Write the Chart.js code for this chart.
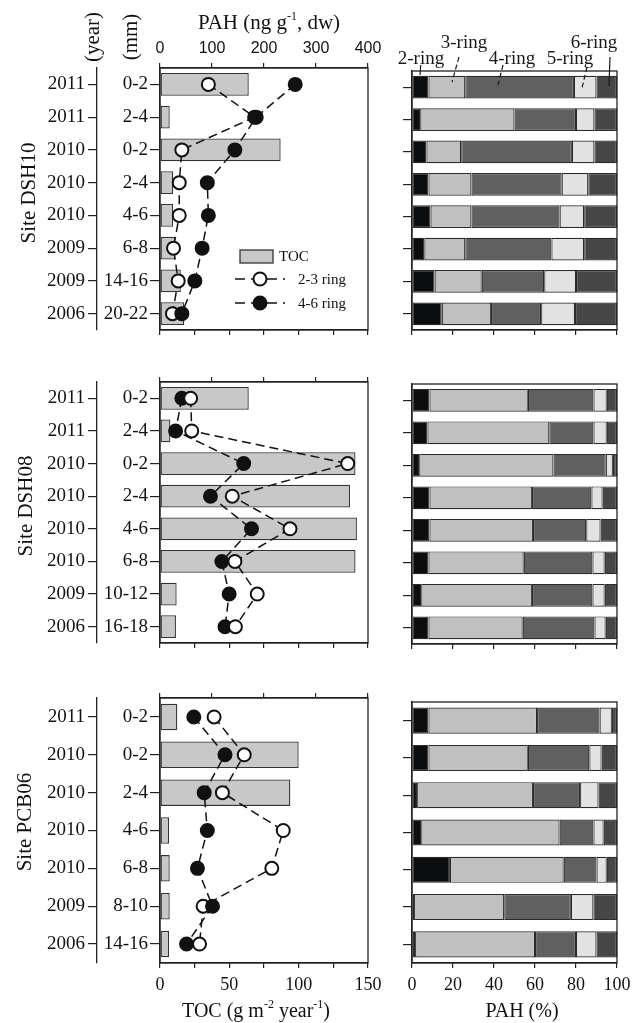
<!DOCTYPE html>
<html>
<head>
<meta charset="utf-8">
<script src="https://cdn.jsdelivr.net/npm/chart.js@4.4.0/dist/chart.umd.min.js"></script>
<style>
body { margin: 0; background: #fff; width: 638px; height: 1023px; position: relative; overflow: hidden;
       font-family: "Liberation Serif", "Times New Roman", serif; color: #111; }
canvas { position: absolute; }
.t { position: absolute; white-space: nowrap; line-height: 1; font-size: 21px; transform: translate(-50%, -50%); }
.r { transform: translate(-50%, -50%) rotate(-90deg); }
.t sup { font-size: 12px; position: relative; top: -2px; vertical-align: top; }
.ring { font-size: 19px; color: #1a1a1a; }
</style>
</head>
<body>
<canvas id="l1" width="400" height="345" style="left:0;top:0"></canvas>
<canvas id="r1" width="258" height="345" style="left:380px;top:0"></canvas>
<canvas id="l2" width="400" height="320" style="left:0;top:345px"></canvas>
<canvas id="r2" width="258" height="320" style="left:380px;top:345px"></canvas>
<canvas id="l3" width="400" height="358" style="left:0;top:665px"></canvas>
<canvas id="r3" width="258" height="358" style="left:380px;top:665px"></canvas>

<div class="t r" style="left:92px;top:37px">(year)</div>
<div class="t r" style="left:130px;top:37px">(mm)</div>
<div class="t" style="left:269px;top:22px">PAH (ng g<sup>-1</sup>, dw)</div>
<div class="t r" style="left:28px;top:193px">Site DSH10</div>
<div class="t r" style="left:25px;top:506px">Site DSH08</div>
<div class="t r" style="left:24px;top:822px">Site PCB06</div>
<div class="t" style="left:256px;top:1010px;font-size:20px">TOC (g m<sup>-2</sup> year<sup>-1</sup>)</div>
<div class="t" style="left:522px;top:1010px;font-size:20px">PAH (%)</div>
<div class="t ring" style="left:421px;top:57px">2-ring</div>
<div class="t ring" style="left:464px;top:41px">3-ring</div>
<div class="t ring" style="left:512px;top:57px">4-ring</div>
<div class="t ring" style="left:570px;top:57px">5-ring</div>
<div class="t ring" style="left:594px;top:41px">6-ring</div>

<script>
// site DSH10
var years10 = ['2011', '2011', '2010', '2010', '2010', '2009', '2009', '2006'];
var depth10 = ['0-2', '2-4', '0-2', '2-4', '4-6', '6-8', '14-16', '20-22'];
var toc10 = [64, 7, 87, 9.5, 9.5, 11, 15, 17.5];
var low10 = [93, 182, 42, 37, 37, 26, 35, 24];
var high10 = [260, 185, 144, 91, 93, 81, 67, 42];
var ring2_10 = [8, 4, 7, 8, 9, 6, 11, 14.5];
var ring3_10 = [18, 46, 17, 21, 20, 20, 23, 24];
var ring4_10 = [53, 30, 54, 44, 43, 42, 30.5, 24.5];
var ring5_10 = [11, 9, 11, 13, 12, 16, 15.5, 16.5];
var ring6_10 = [10, 11, 11, 14, 16, 16, 20, 20.5];

// site DSH08
var years08 = ['2011', '2011', '2010', '2010', '2010', '2010', '2009', '2006'];
var depth08 = ['0-2', '2-4', '0-2', '2-4', '4-6', '6-8', '10-12', '16-18'];
var toc08 = [64, 7.5, 141, 137, 142, 141, 12, 11.5];
var low08 = [59, 61, 361, 139, 250, 144, 187, 145];
var high08 = [42, 30, 161, 97, 176, 119, 133, 125];
var ring2_08 = [8.5, 7.5, 3.5, 8.5, 8.5, 8, 4.5, 8];
var ring3_08 = [48, 59.5, 65.5, 50, 50.5, 46.5, 54, 46];
var ring4_08 = [32, 21.5, 25.5, 29, 26, 33.5, 29.5, 35];
var ring5_08 = [6.5, 6.5, 3.5, 5.5, 7, 6, 6, 5.5];
var ring6_08 = [5, 5, 2, 7, 8, 6, 6, 5.5];

// site PCB06
var years06 = ['2011', '2010', '2010', '2010', '2010', '2009', '2006'];
var depth06 = ['0-2', '0-2', '2-4', '4-6', '6-8', '8-10', '14-16'];
var toc06 = [12.5, 100, 94, 6.5, 7, 7, 6.5];
var low06 = [104, 162, 120, 237, 215, 83, 76];
var high06 = [65, 125, 85, 91, 72, 101, 51];
var ring2_06 = [8, 8, 2.5, 4.5, 18.5, 1, 1.5];
var ring3_06 = [53, 48.5, 56.5, 67.5, 55.5, 44, 58.5];
var ring4_06 = [30.5, 30, 23, 16.5, 16, 32.5, 20];
var ring5_06 = [6, 6, 9, 5, 5, 11, 10];
var ring6_06 = [2.5, 7.5, 9, 6.5, 5, 11.5, 10];

var ringNames = ['2-ring', '3-ring', '4-ring', '5-ring', '6-ring'];
var ringColors = ['#0b0d0e', '#c0c0c0', '#606060', '#e2e2e2', '#464646'];

Chart.defaults.font.family = '"Liberation Serif", "Times New Roman", serif';
Chart.defaults.color = '#111';

var ink = '#222';

// box round the plot area
var frame = {
    id: 'frame',
    afterDatasetsDraw: function (chart) {
        var a = chart.chartArea, c = chart.ctx;
        c.save();
        c.strokeStyle = ink;
        c.lineWidth = 1.3;
        c.strokeRect(a.left, a.top, a.right - a.left, a.bottom - a.top);
        c.restore();
    }
};

// fixed axis size so the panels line up
function fix(size) {
    return function (s) {
        if (s.isHorizontal()) s.height = size; else s.width = size;
        s.paddingLeft = 0; s.paddingRight = 0; s.paddingTop = 0; s.paddingBottom = 0;
    };
}

function leftChart(id, years, depths, toc, low, high, lowOnTop, o) {
    var lineBase = {
        type: 'line', indexAxis: 'y', xAxisID: 'x2', yAxisID: 'y',
        borderColor: '#111', borderWidth: 1.5, borderDash: [9, 5],
        pointRadius: 6.5, pointBorderWidth: 2, pointBorderColor: '#111',
        fill: false, tension: 0
    };
    return new Chart(document.getElementById(id), {
        type: 'bar',
        data: {
            labels: depths,
            datasets: [
                Object.assign({}, lineBase, { label: '2-3 ring', data: low, order: lowOnTop ? 1 : 2, pointBackgroundColor: '#fff' }),
                Object.assign({}, lineBase, { label: '4-6 ring', data: high, order: lowOnTop ? 2 : 1, pointBackgroundColor: '#111' }),
                {
                    type: 'bar', label: 'TOC', data: toc, indexAxis: 'y', xAxisID: 'x', yAxisID: 'y', order: 3,
                    backgroundColor: '#c8c8c8', borderColor: '#333', borderWidth: 1.3, borderSkipped: false,
                    barPercentage: 0.7, categoryPercentage: 1
                }
            ]
        },
        options: {
            indexAxis: 'y',
            responsive: false,
            animation: false,
            devicePixelRatio: 1,
            layout: { padding: { left: 0, right: 32, top: o.padTop, bottom: 0 } },
            plugins: { legend: { display: false }, tooltip: { enabled: false } },
            scales: {
                x: {
                    type: 'linear', position: 'bottom', min: 0, max: 150, afterFit: fix(o.xh),
                    grid: { drawOnChartArea: false, tickLength: 5, color: ink, lineWidth: 1.2 },
                    border: { color: ink, width: 1.3 },
                    ticks: {
                        display: o.bottomLabels, stepSize: 25, autoSkip: false, padding: 6, maxRotation: 0,
                        font: { size: 18 }, callback: function (v) { return v % 50 === 0 ? v : ''; }
                    }
                },
                x2: {
                    type: 'linear', position: 'top', min: 0, max: 400, afterFit: fix(o.x2h),
                    grid: { drawOnChartArea: false, tickLength: 5, color: ink, lineWidth: 1.2 },
                    border: { color: ink, width: 1.3 },
                    ticks: {
                        display: o.topLabels, stepSize: 100, autoSkip: false, padding: 5, maxRotation: 0,
                        font: { family: '"Liberation Sans", Arial, sans-serif', size: 16 }
                    }
                },
                y: {
                    type: 'category', position: 'left', offset: true, afterFit: fix(63),
                    grid: { offset: false, drawOnChartArea: false, tickLength: 10, color: ink, lineWidth: 1.2 },
                    border: { color: ink, width: 1.3 },
                    ticks: { padding: 2, font: { size: 19 } }
                },
                yYear: {
                    type: 'category', axis: 'y', position: 'left', weight: 1, labels: years, offset: true,
                    afterFit: fix(97),
                    grid: { offset: false, drawOnChartArea: false, tickLength: 9, color: ink, lineWidth: 1.2 },
                    border: { color: ink, width: 1.3 },
                    ticks: { padding: 3, font: { size: 19 } }
                }
            }
        },
        plugins: [frame].concat(o.extra || [])
    });
}

function rightChart(id, depths, rings, o) {
    return new Chart(document.getElementById(id), {
        type: 'bar',
        data: {
            labels: depths,
            datasets: rings.map(function (d, i) {
                return {
                    label: ringNames[i], data: d, backgroundColor: ringColors[i],
                    borderColor: '#2a2a2a', borderWidth: 1.2, borderSkipped: false,
                    barPercentage: 0.7, categoryPercentage: 1
                };
            })
        },
        options: {
            indexAxis: 'y',
            responsive: false,
            animation: false,
            devicePixelRatio: 1,
            layout: { padding: { left: 23, right: 21, top: o.padTop, bottom: 0 } },
            plugins: { legend: { display: false }, tooltip: { enabled: false } },
            scales: {
                x: {
                    stacked: true, min: 0, max: 100, afterFit: fix(o.xh),
                    grid: { drawOnChartArea: false, tickLength: 5, color: ink, lineWidth: 1.2 },
                    border: { color: ink, width: 1.3 },
                    ticks: { display: o.labels, stepSize: 20, autoSkip: false, padding: 6, maxRotation: 0, font: { size: 18 } }
                },
                y: {
                    stacked: true, offset: true, afterFit: fix(9),
                    grid: { offset: false, drawOnChartArea: false, tickLength: 9, color: ink, lineWidth: 1.2 },
                    border: { color: ink, width: 1.3 },
                    ticks: { display: false }
                }
            }
        },
        plugins: [frame].concat(o.extra || [])
    });
}

// legend inside the first left panel
var legendBox = {
    id: 'legendBox',
    afterDraw: function (chart) {
        var c = chart.ctx;
        c.save();
        c.fillStyle = '#c8c8c8';
        c.strokeStyle = '#333';
        c.lineWidth = 1.3;
        c.fillRect(240, 250, 33, 13);
        c.strokeRect(240, 250, 33, 13);
        c.fillStyle = '#111';
        c.font = '15px "Liberation Serif", serif';
        c.textBaseline = 'middle';
        c.fillText('TOC', 279, 257);
        [[279, '#fff', '2-3 ring'], [303, '#111', '4-6 ring']].forEach(function (r) {
            c.strokeStyle = '#111';
            c.lineWidth = 1.5;
            c.setLineDash([10, 6]);
            c.beginPath(); c.moveTo(235, r[0]); c.lineTo(285, r[0]); c.stroke();
            c.setLineDash([]);
            c.lineWidth = 2;
            c.fillStyle = r[1];
            c.beginPath(); c.arc(260, r[0], 6.5, 0, Math.PI * 2); c.fill(); c.stroke();
            c.fillStyle = '#111';
            c.fillText(r[2], 298, r[0] + 1);
        });
        c.restore();
    }
};

// leader lines from the ring names to the first bar
var leaders = {
    id: 'leaders',
    afterDraw: function (chart) {
        var c = chart.ctx;
        var segs = [[40.7, 65, 40, 75, false], [79, 57, 72, 82, true], [123, 65, 118, 85, true],
                    [207, 67, 202, 88, true], [230, 57, 229, 86, false]];
        c.save();
        c.strokeStyle = '#1a1a1a';
        c.lineWidth = 1.2;
        segs.forEach(function (s) {
            c.setLineDash(s[4] ? [5, 3] : []);
            c.beginPath(); c.moveTo(s[0], s[1]); c.lineTo(s[2], s[3]); c.stroke();
        });
        c.restore();
    }
};

leftChart('l1', years10, depth10, toc10, low10, high10, false,
    { padTop: 38, x2h: 30, xh: 15, topLabels: true, bottomLabels: false, extra: [legendBox] });
leftChart('l2', years08, depth08, toc08, low08, high08, true,
    { padTop: 27, x2h: 10, xh: 22, topLabels: false, bottomLabels: false });
leftChart('l3', years06, depth06, toc06, low06, high06, false,
    { padTop: 23, x2h: 10, xh: 60, topLabels: false, bottomLabels: true });

rightChart('r1', depth10, [ring2_10, ring3_10, ring4_10, ring5_10, ring6_10],
    { padTop: 71, xh: 15, labels: false, extra: [leaders] });
rightChart('r2', depth08, [ring2_08, ring3_08, ring4_08, ring5_08, ring6_08],
    { padTop: 39, xh: 21, labels: false });
rightChart('r3', depth06, [ring2_06, ring3_06, ring4_06, ring5_06, ring6_06],
    { padTop: 37, xh: 60, labels: true });
</script>
</body>
</html>
